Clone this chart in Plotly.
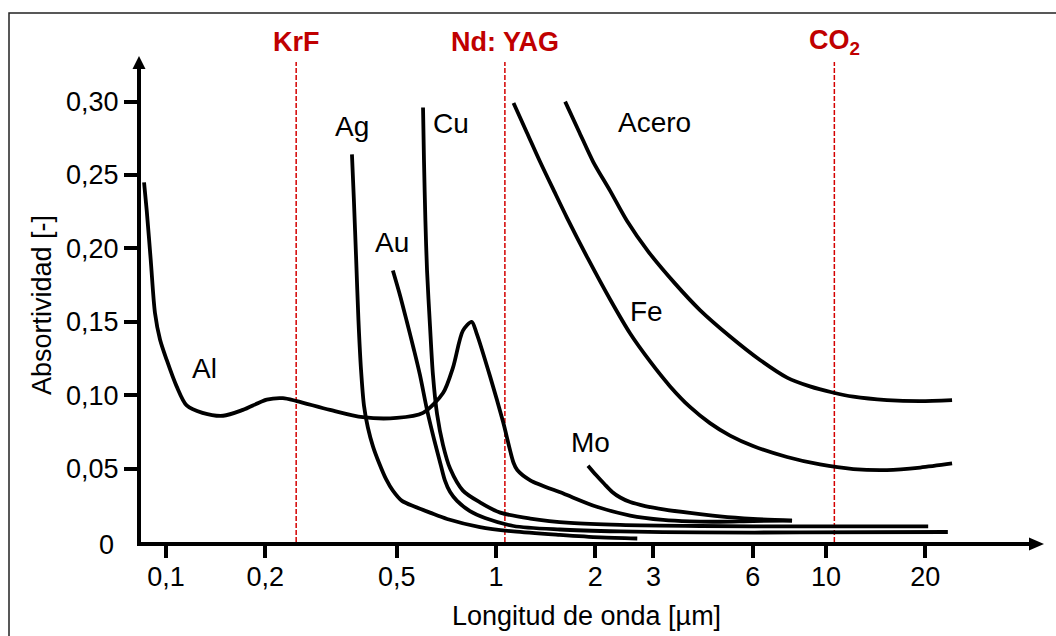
import math
import plotly.graph_objects as go

# Absorptivity of metals versus wavelength (µm)
al_wl = [0.0858, 0.0874, 0.0899, 0.0926, 0.0959, 0.1005, 0.1077, 0.1155, 0.129, 0.149, 0.171,
         0.202, 0.226, 0.249, 0.314, 0.395, 0.500, 0.601, 0.691, 0.741, 0.794, 0.844, 0.874,
         0.959, 1.05, 1.13, 1.16, 1.27, 1.60, 2.02, 2.55, 3.21, 3.87, 4.77, 6.01, 7.89]
al_abs = [0.245, 0.226, 0.192, 0.156, 0.138, 0.124, 0.106, 0.093, 0.088, 0.086, 0.090,
          0.097, 0.098, 0.096, 0.090, 0.085, 0.0845, 0.088, 0.1015, 0.119, 0.144, 0.150, 0.142,
          0.113, 0.082, 0.054, 0.049, 0.042, 0.033, 0.024, 0.018, 0.015, 0.014, 0.0138, 0.0143, 0.0146]

ag_wl = [0.366, 0.371, 0.377, 0.383, 0.390, 0.398, 0.409, 0.424, 0.442, 0.464, 0.487, 0.519,
         0.568, 0.631, 0.711, 0.894, 1.13, 1.56, 2.07, 2.68]
ag_abs = [0.264, 0.233, 0.192, 0.151, 0.117, 0.093, 0.078, 0.065, 0.054, 0.043, 0.035, 0.028,
          0.024, 0.020, 0.0157, 0.0102, 0.0072, 0.0048, 0.0031, 0.0024]

au_wl = [0.487, 0.512, 0.537, 0.564, 0.588, 0.618, 0.649, 0.681, 0.700, 0.726, 0.762, 0.834,
         0.926, 1.13, 1.56, 2.38, 4.15, 8.34, 23.4]
au_abs = [0.185, 0.168, 0.150, 0.131, 0.114, 0.090, 0.070, 0.052, 0.042, 0.034, 0.028, 0.021,
          0.0163, 0.0109, 0.0085, 0.0072, 0.0065, 0.0065, 0.0068]

cu_wl = [0.601, 0.605, 0.611, 0.618, 0.631, 0.644, 0.663, 0.691, 0.726, 0.794, 0.894, 1.03,
         1.27, 1.68, 2.38, 4.15, 8.34, 20.4]
cu_abs = [0.296, 0.260, 0.219, 0.185, 0.147, 0.114, 0.087, 0.066, 0.050, 0.035, 0.027, 0.020,
          0.016, 0.013, 0.0116, 0.0109, 0.0106, 0.0106]

mo_wl = [1.90, 2.01, 2.13, 2.25, 2.38, 2.55, 2.83, 3.25, 3.87, 4.77, 6.01, 7.89]
mo_abs = [0.052, 0.0456, 0.0395, 0.0341, 0.0303, 0.0272, 0.0245, 0.0221, 0.0198, 0.0174,
          0.0157, 0.0146]

fe_wl = [1.13, 1.24, 1.36, 1.50, 1.64, 1.90, 2.22, 2.55, 2.93, 3.37, 3.87, 4.45, 5.12, 6.01,
         7.62, 9.59, 12.1, 15.3, 19.3, 24.1]
fe_abs = [0.299, 0.279, 0.259, 0.239, 0.221, 0.193, 0.165, 0.142, 0.123, 0.106, 0.092, 0.081,
          0.0725, 0.0654, 0.0579, 0.0528, 0.0497, 0.049, 0.0507, 0.0535]

acero_wl = [1.62, 1.79, 1.97, 2.22, 2.49, 2.89, 3.49, 4.15, 5.12, 6.31, 7.62, 8.94, 10.4,
            12.1, 15.3, 19.3, 24.1]
acero_abs = [0.300, 0.279, 0.259, 0.239, 0.219, 0.198, 0.176, 0.158, 0.140, 0.124, 0.112,
             0.106, 0.102, 0.099, 0.0967, 0.096, 0.0967]

# Laser wavelengths (µm)
laser_names = ["KrF", "Nd: YAG", "CO<sub>2</sub>"]
laser_wl = [0.248, 1.064, 10.6]

# Axis ticks
x_tickvals = [0.1, 0.2, 0.5, 1, 2, 3, 6, 10, 20]
x_ticktext = ["0,1", "0,2", "0,5", "1", "2", "3", "6", "10", "20"]
y_tickvals = [0.05, 0.10, 0.15, 0.20, 0.25, 0.30]
y_ticktext = ["0,05", "0,10", "0,15", "0,20", "0,25", "0,30"]

curves = [
    ("Al", al_wl, al_abs),
    ("Ag", ag_wl, ag_abs),
    ("Au", au_wl, au_abs),
    ("Cu", cu_wl, cu_abs),
    ("Mo", mo_wl, mo_abs),
    ("Fe", fe_wl, fe_abs),
    ("Acero", acero_wl, acero_abs),
]

# Where each curve's name is written (wavelength, absorptivity)
label_pos = {
    "Al": (0.131, 0.118),
    "Ag": (0.367, 0.283),
    "Cu": (0.733, 0.285),
    "Au": (0.483, 0.204),
    "Acero": (3.03, 0.286),
    "Fe": (2.86, 0.157),
    "Mo": (1.93, 0.068),
}

FONT = "Liberation Sans, Arial, sans-serif"
W, H = 1056, 636
ML, MR, MT, MB = 141, 24, 68, 94
PW, PH = W - ML - MR, H - MT - MB
PX_PER_DECADE = 330.0
PX_AT_ONE_UM = 496.0


def px_x(p):
    return (p - ML) / PW


def px_y(p):
    return (H - MB - p) / PH


fig = go.Figure()
for name, wl, ab in curves:
    fig.add_trace(go.Scatter(
        x=wl, y=ab, mode="lines", name=name, showlegend=False, hoverinfo="skip",
        line=dict(color="black", width=3.8, shape="spline", smoothing=0.8),
    ))

shapes = []
annotations = []

# Laser lines and their labels
for lname, lwl in zip(laser_names, laser_wl):
    shapes.append(dict(type="line", xref="x", yref="paper", x0=lwl, x1=lwl,
                       y0=0, y1=px_y(62), line=dict(color="#d40000", width=1.5, dash="5px,2px"),
                       layer="below"))
    annotations.append(dict(xref="x", yref="paper", x=math.log10(lwl), y=px_y(42),
                            text="<b>%s</b>" % lname, showarrow=False, xanchor="center",
                            yanchor="middle", font=dict(family=FONT, size=27, color="#c00000")))

# Curve names
for name, (lx, ly) in label_pos.items():
    annotations.append(dict(xref="x", yref="y", x=math.log10(lx), y=ly, text=name,
                            showarrow=False, xanchor="center", yanchor="middle",
                            font=dict(family=FONT, size=28, color="black")))

# Zero label of the absorptivity axis
annotations.append(dict(xref="paper", yref="y", x=px_x(116), y=0, text="0", showarrow=False,
                        xanchor="right", yanchor="middle", yshift=-3,
                        font=dict(family=FONT, size=27, color="black")))

# Arrow heads on both axes
shapes.append(dict(type="path", xref="paper", yref="paper", fillcolor="black",
                   line=dict(width=0),
                   path="M %f,%f L %f,%f L %f,%f Z" % (px_x(132.5), px_y(69), px_x(145.5), px_y(69),
                                                       px_x(139), px_y(56))))
shapes.append(dict(type="path", xref="paper", yref="paper", fillcolor="black",
                   line=dict(width=0),
                   path="M %f,%f L %f,%f L %f,%f Z" % (px_x(1029), px_y(537.5), px_x(1029), px_y(550.5),
                                                       px_x(1044), px_y(544))))

# Frame lines at the top and left of the figure
shapes.append(dict(type="path", xref="paper", yref="paper",
                   line=dict(color="#222222", width=1.5),
                   path="M %f,%f L %f,%f L %f,%f" % (px_x(9), px_y(640), px_x(9), px_y(13),
                                                     px_x(1060), px_y(13))))

x_range = [(ML - PX_AT_ONE_UM) / PX_PER_DECADE, (W - MR - PX_AT_ONE_UM) / PX_PER_DECADE]

fig.update_layout(
    width=W, height=H,
    margin=dict(l=ML, r=MR, t=MT, b=MB, pad=0),
    paper_bgcolor="white", plot_bgcolor="white",
    font=dict(family=FONT, color="black"),
    shapes=shapes, annotations=annotations,
    xaxis=dict(
        type="log", range=x_range, automargin=False,
        showline=True, linecolor="black", linewidth=4,
        ticks="outside", ticklen=12, tickwidth=4, tickcolor="black",
        tickvals=x_tickvals, ticktext=x_ticktext, tickfont=dict(size=27, family=FONT),
        ticklabelstandoff=-4,
        showgrid=False, zeroline=False,
        title=dict(text="Longitud de onda [µm]", font=dict(size=27, family=FONT), standoff=16),
    ),
    yaxis=dict(
        range=[0, PH / 1468], automargin=False,
        showline=True, linecolor="black", linewidth=4,
        ticks="outside", ticklen=13, tickwidth=4, tickcolor="black",
        tickvals=y_tickvals, ticktext=y_ticktext, tickfont=dict(size=27, family=FONT),
        showgrid=False, zeroline=False,
        title=dict(text="Absortividad [-]", font=dict(size=27, family=FONT), standoff=8),
    ),
)

fig.write_html("out.html")
